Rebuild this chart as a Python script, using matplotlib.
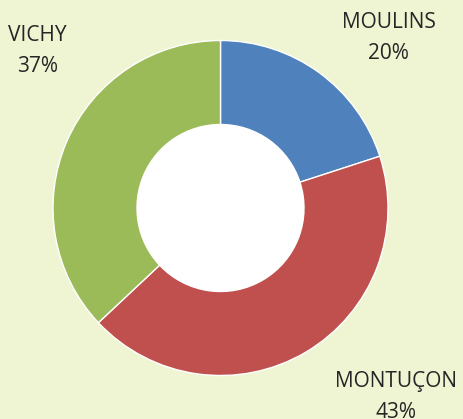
import matplotlib.pyplot as plt
from matplotlib.patches import Circle

# Share of each town, clockwise from twelve o'clock
towns = ['MOULINS', 'MONTUÇON', 'VICHY']
shares = [20, 43, 37]
colors = ['#4F81BD', '#C0504D', '#9BBB59']

W, H = 464, 419
fig = plt.figure(figsize=(W / 100, H / 100), dpi=100)
fig.patch.set_facecolor('#EFF5D2')
ax = fig.add_axes([0, 0, 1, 1])
ax.set_xlim(0, W)
ax.set_ylim(0, H)
ax.set_aspect('equal')
ax.axis('off')

cx, cy = 220.5, 211
ax.pie(shares, colors=colors, startangle=90, counterclock=False,
       center=(cx, cy), radius=167.5,
       wedgeprops=dict(width=84, edgecolor='white', linewidth=1))
# white hole in the middle of the ring
ax.add_patch(Circle((cx, cy), 83.5, facecolor='white', edgecolor='none'))
ax.set_xlim(0, W)
ax.set_ylim(0, H)

# Labels placed around the ring
label_pos = [(388.5, 381), (396, 22), (37.5, 368)]
for name, val, (x, y) in zip(towns, shares, label_pos):
    ax.text(x, y, f'{name}\n{val}%', ha='center', va='center',
            fontsize=15, family='Open Sans', color='#262626',
            linespacing=1.6)

fig.savefig('out.png', dpi=100, facecolor=fig.get_facecolor())
